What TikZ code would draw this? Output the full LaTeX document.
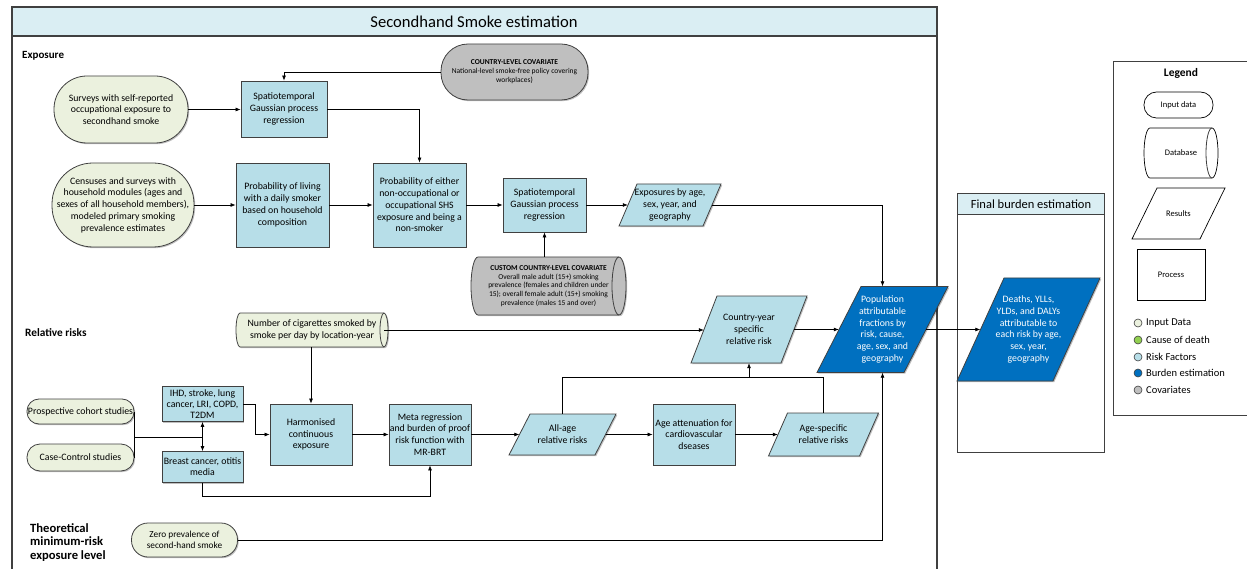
\documentclass[tikz,border=0pt]{standalone}
\usepackage{fontspec}
\setmainfont{Carlito}
\usetikzlibrary{arrows.meta,shapes.geometric,shadows,calc}
\definecolor{ingreen}{RGB}{235,241,222}
\definecolor{rfblue}{RGB}{183,222,232}
\definecolor{bdblue}{RGB}{0,112,192}
\definecolor{covgray}{RGB}{191,191,191}
\definecolor{hdrblue}{RGB}{218,238,243}
\definecolor{codgreen}{RGB}{146,208,80}
\definecolor{edge}{RGB}{64,64,64}
\tikzset{
  shd/.style={drop shadow={shadow xshift=1.2pt,shadow yshift=-1.2pt,fill=black,opacity=0.25}},
  basebox/.style={draw=edge,line width=0.8pt,align=center,inner sep=0pt,font=\fontsize{9.8}{11.8}\selectfont},
  proc/.style={basebox,rectangle,fill=rfblue,shd},
  inp/.style={basebox,rectangle,fill=ingreen,shd},
  covbox/.style={basebox,rectangle,fill=covgray,shd,font=\fontsize{7.5}{9}\selectfont},
  pgb/.style={draw=edge,line width=0.8pt,fill=rfblue,shd},
  pgd/.style={draw=edge,line width=0.8pt,fill=bdblue,shd},
  pgw/.style={draw=black,line width=0.7pt,fill=white},
  cylg/.style={draw=edge,line width=0.8pt,fill=covgray,shd},
  cyli/.style={draw=edge,line width=0.8pt,fill=ingreen,shd},
  cylw/.style={draw=black,line width=0.7pt,fill=white},
  cylinner/.style={draw=edge,line width=0.8pt},
  pgtext/.style={align=center,inner sep=0pt,font=\fontsize{9.8}{11.8}\selectfont},
  arr/.style={-{Latex[length=5pt,width=4pt]},line width=0.7pt,draw=black},
  ln/.style={line width=0.7pt,draw=black},
  lbl/.style={font=\fontsize{11}{13}\selectfont\bfseries,inner sep=0pt},
  legshape/.style={draw=black,line width=0.7pt,fill=white,align=center,inner sep=0pt,font=\fontsize{8.5}{10}\selectfont},
  legdot/.style={circle,draw=edge,line width=0.6pt,minimum size=8pt,inner sep=0pt},
  legtxt/.style={anchor=west,inner sep=0pt,font=\fontsize{10.5}{12}\selectfont},
}
% parallelogram: name, cx, cy, mid width, height, offset, path style, node options, text
\newcommand\pgram[9]{%
  \path[#7] ({#2-#4/2-#6/2},{#3+#5/2}) -- ({#2+#4/2-#6/2},{#3+#5/2}) -- ({#2+#4/2+#6/2},{#3-#5/2}) -- ({#2-#4/2+#6/2},{#3-#5/2}) -- cycle;
  \node[pgtext,minimum width=#4pt,minimum height=#5pt,#8] (#1) at (#2,#3) {#9};
}
% horizontal cylinder: name, cx, cy, width, height, end x-radius, path style, node options, text
\newcommand\cylsh[9]{%
  \pgfmathsetmacro\cxl{#2-#4/2+#6}%
  \pgfmathsetmacro\cxr{#2+#4/2-#6}%
  \pgfmathsetmacro\cyt{#3-#5/2}%
  \pgfmathsetmacro\cyb{#3+#5/2}%
  \pgfmathsetmacro\ckx{0.5523*#6}%
  \pgfmathsetmacro\cky{0.5523*#5/2}%
  \path[#7] (\cxl,\cyt) -- (\cxr,\cyt)
    .. controls ({\cxr+\ckx},\cyt) and ({\cxr+#6},{#3-\cky}) .. ({\cxr+#6},#3)
    .. controls ({\cxr+#6},{#3+\cky}) and ({\cxr+\ckx},\cyb) .. (\cxr,\cyb)
    -- (\cxl,\cyb)
    .. controls ({\cxl-\ckx},\cyb) and ({\cxl-#6},{#3+\cky}) .. ({\cxl-#6},#3)
    .. controls ({\cxl-#6},{#3-\cky}) and ({\cxl-\ckx},\cyt) .. (\cxl,\cyt) -- cycle;
  \path[cylinner] (\cxr,\cyt)
    .. controls ({\cxr-\ckx},\cyt) and ({\cxr-#6},{#3-\cky}) .. ({\cxr-#6},#3)
    .. controls ({\cxr-#6},{#3+\cky}) and ({\cxr-\ckx},\cyb) .. (\cxr,\cyb);
  \node[pgtext,minimum width={#4pt-2*#6pt},minimum height=#5pt,#8] (#1) at (#2,#3) {#9};
}
\begin{document}
\begin{tikzpicture}[x=1pt,y=-1pt]
\useasboundingbox (0,0) rectangle (1247,569);

% main frame
\draw[edge,line width=1.2pt] (12,36) -- (12,580);
\draw[edge,line width=1.2pt] (937,36) -- (937,580);
\draw[draw=edge,fill=hdrblue,line width=1.2pt,shd] (12,7) rectangle (937,36);
\node[font=\fontsize{16.6}{19}\selectfont,inner sep=0pt] (title) at (474,22) {Secondhand Smoke estimation};

% final burden frame
\draw[draw=edge,line width=1pt] (957,214) rectangle (1104,452);
\node[draw=edge,fill=hdrblue,line width=1pt,minimum width=147pt,minimum height=21pt,inner sep=0pt,anchor=north west,font=\fontsize{12.5}{14}\selectfont] (fbh) at (957,193) {Final burden estimation};

% section labels
\node[lbl,anchor=west] (lexp) at (22,56) {Exposure};
\node[lbl,anchor=west,font=\fontsize{11.3}{13}\selectfont\bfseries] (lrr) at (25,333) {Relative risks};
\node[lbl,anchor=north west,align=left,font=\fontsize{12.6}{13.6}\selectfont\bfseries] (ltm) at (30,523) {Theoretical\\minimum-risk\\exposure level};

% exposure part
\node[inp,rounded corners=33pt,minimum width=134pt,minimum height=67pt] (surv) at (121,109.5) {Surveys with self-reported\\occupational exposure to\\secondhand smoke};
\node[proc,minimum width=86pt,minimum height=56pt] (gpr1) at (284,109) {Spatiotemporal\\Gaussian process\\regression};
\node[covbox,rounded corners=27pt,minimum width=147pt,minimum height=56pt] (ccov) at (514.5,72) {\textbf{COUNTRY-LEVEL COVARIATE}\\National-level smoke-free policy covering\\workplaces)};
\node[inp,rounded corners=41pt,minimum width=142pt,minimum height=84pt] (census) at (123,205) {Censuses and surveys with\\household modules (ages and\\sexes of all household members),\\modeled primary smoking\\prevalence estimates};
\node[proc,minimum width=93pt,minimum height=84pt] (living) at (282.5,205) {Probability of living\\with a daily smoker\\based on household\\composition};
\node[proc,minimum width=93pt,minimum height=84pt] (either) at (419.5,205) {Probability of either\\non-occupational or\\occupational SHS\\exposure and being a\\non-smoker};
\node[proc,minimum width=83pt,minimum height=54pt] (gpr2) at (544.5,205) {Spatiotemporal\\Gaussian process\\regression};
\pgram{expo}{670}{205}{84}{42}{18}{pgb}{}{Exposures by age,\\sex, year, and\\geography}
\cylsh{custom}{548.5}{286}{155}{58}{7}{cylg}{font=\fontsize{7.5}{8.8}\selectfont}{\textbf{CUSTOM COUNTRY-LEVEL COVARIATE}\\Overall male adult (15+) smoking\\prevalence (females and children under\\15); overall female adult (15+) smoking\\prevalence (males 15 and over)}

% burden
\pgram{paf}{882.5}{329.5}{87}{86}{44}{pgd}{text=white}{Population\\attributable\\fractions by\\risk, cause,\\age, sex, and\\geography}
\pgram{deaths}{1028.5}{329.5}{96}{103}{47}{pgd}{text=white}{Deaths, YLLs,\\YLDs, and DALYs\\attributable to\\each risk by age,\\sex, year,\\geography}

% relative risks
\cylsh{cig}{312}{330}{152}{34}{4}{cyli}{}{Number of cigarettes smoked by\\smoke per day by location-year}
\pgram{cy}{749}{329.5}{90}{67}{26}{pgb}{}{Country-year\\specific\\relative risk}
\node[inp,rounded corners=12pt,minimum width=107pt,minimum height=25pt] (pros) at (80.5,411.5) {Prospective cohort studies};
\node[inp,rounded corners=13pt,minimum width=107pt,minimum height=27pt] (case) at (80.5,457.5) {Case-Control studies};
\node[proc,minimum width=81pt,minimum height=35pt,font=\fontsize{9.8}{10.8}\selectfont] (ihd) at (202.5,404) {IHD, stroke, lung\\cancer, LRI, COPD,\\T2DM};
\node[proc,minimum width=81pt,minimum height=31pt,font=\fontsize{9.8}{10.8}\selectfont] (breast) at (202.5,467) {Breast cancer, otitis\\media};
\node[proc,minimum width=82pt,minimum height=61pt] (harm) at (311,434.5) {Harmonised\\continuous\\exposure};
\node[proc,minimum width=82pt,minimum height=61pt] (meta) at (430,434.5) {Meta regression\\and burden of proof\\risk function with\\MR-BRT};
\pgram{allage}{562.5}{434.5}{86}{41}{21}{pgb}{}{All-age\\relative risks}
\node[proc,minimum width=82pt,minimum height=61pt] (ageatt) at (694,434.5) {Age attenuation for\\cardiovascular\\dseases};
\pgram{agesp}{823.5}{434.5}{91}{43}{19}{pgb}{}{Age-specific\\relative risks}
\node[inp,rounded corners=16.5pt,minimum width=106pt,minimum height=34pt,font=\fontsize{9.3}{11}\selectfont] (zero) at (184.5,540) {Zero prevalence of\\second-hand smoke};

% connectors: exposure
\draw[arr] (ccov.west) -| (gpr1.north);
\draw[arr] (surv.east) -- (surv.east -| gpr1.west);
\draw[arr] (gpr1.east) -| (either.north);
\draw[arr] (census.east) -- (living.west);
\draw[arr] (living.east) -- (either.west);
\draw[arr] (either.east) -- (gpr2.west);
\draw[arr] (gpr2.east) -- (expo.west);
\draw[arr] (expo.east) -| (paf.north);
\draw[arr] (gpr2.south |- custom.north) -- (gpr2.south);
% connectors: relative risks
\draw[arr] (cig.east) -- (cig.east -| cy.west);
\draw[arr] (cy.east) -- (paf.west);
\draw[arr] (paf.east) -- (deaths.west);
\draw[arr] (harm.north |- cig.south) -- (harm.north);
\coordinate (jj) at (202.5,437.5);
\draw[ln] (pros.east) -- (case.east);
\draw[ln] (pros.east |- jj) -- (jj);
\draw[arr] (jj) -- (ihd.south);
\draw[arr] (jj) -- (breast.north);
\draw[arr] (ihd.east) -- ++(12,0) |- (harm.west);
\draw[arr] (harm.east) -- (meta.west);
\draw[arr] (breast.south) -- ++(0,13) -| (meta.south);
\draw[arr] (meta.east) -- (allage.west);
\draw[arr] (allage.east) -- (ageatt.west);
\draw[arr] (ageatt.east) -- (agesp.west);
\coordinate (rr) at (749,377);
\draw[ln] (allage.north) |- (agesp.north |- rr) -- (agesp.north);
\draw[arr] (cy.south |- rr) -- (cy.south);
\draw[arr] (zero.east) -| (paf.south);

% legend
\draw[draw=edge,line width=1pt] (1113,62) rectangle (1252,415);
\node[font=\fontsize{11.5}{13}\selectfont\bfseries,inner sep=0pt] (legt) at (1181,73) {Legend};
\node[legshape,rectangle,rounded corners=12.5pt,minimum width=69pt,minimum height=26pt] (lin) at (1178.5,105) {Input data};
\cylsh{ldb}{1181}{153}{74}{50}{6}{cylw}{font=\fontsize{8.5}{10}\selectfont}{Database}
\pgram{lres}{1178.5}{213.5}{68}{51}{25}{pgw}{font=\fontsize{8.5}{10}\selectfont}{Results}
\node[legshape,rectangle,minimum width=68pt,minimum height=51pt] (lproc) at (1171,274.5) {Process};
\node[legdot,fill=ingreen] (d1) at (1138,323) {};
\node[legtxt] (t1) at (1146,323) {Input Data};
\node[legdot,fill=codgreen] (d2) at (1138,340) {};
\node[legtxt] (t2) at (1146,340) {Cause of death};
\node[legdot,fill=rfblue] (d3) at (1138,357) {};
\node[legtxt] (t3) at (1146,357) {Risk Factors};
\node[legdot,fill=bdblue] (d4) at (1138,373) {};
\node[legtxt] (t4) at (1146,373) {Burden estimation};
\node[legdot,fill=covgray] (d5) at (1138,390) {};
\node[legtxt] (t5) at (1146,390) {Covariates};
\end{tikzpicture}
\end{document}
